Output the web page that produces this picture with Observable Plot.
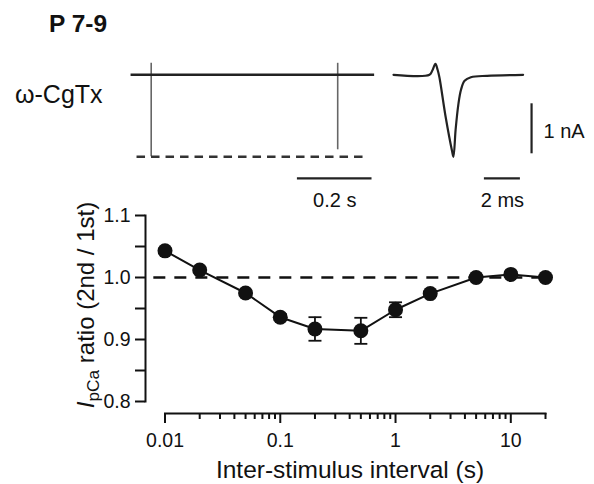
<!DOCTYPE html>
<html>
<head>
<meta charset="utf-8">
<script src="https://cdn.jsdelivr.net/npm/d3@7"></script>
<script src="https://cdn.jsdelivr.net/npm/@observablehq/plot@0.6"></script>
<style>
  html, body { margin: 0; padding: 0; background: #fff; }
  #fig { position: relative; width: 594px; height: 484px; overflow: hidden; background: #fff;
         font-family: "Liberation Sans", Arial, sans-serif; color: #111; }
  #fig svg { position: absolute; left: 0; }
  .lbl { position: absolute; white-space: nowrap; line-height: 1; color: #111; }
  .lbl sub { font-size: 0.72em; vertical-align: -0.3em; line-height: 0; }
</style>
</head>
<body>
<div id="fig"></div>
<script>
// ---------- data: paired-pulse ratio vs inter-stimulus interval ----------
const intervals = [0.01, 0.02, 0.05, 0.1, 0.2, 0.5, 1, 2, 5, 10, 20];          // s
const ratios    = [1.043, 1.012, 0.975, 0.936, 0.917, 0.914, 0.948, 0.974, 1.000, 1.005, 1.000];
const sems      = [0.004, 0.004, 0.004, 0.005, 0.019, 0.021, 0.012, 0.004, 0.003, 0.004, 0.003];
const referenceRatio = 1.0;
const referenceSpan = [0.008, 20];

const xTicks = [0.01, 0.1, 1, 10];
const xTickLabels = ["0.01", "0.1", "1", "10"];
const xMinorTicks = [0.02, 0.03, 0.04, 0.05, 0.06, 0.07, 0.08, 0.09,
                     0.2, 0.3, 0.4, 0.5, 0.6, 0.7, 0.8, 0.9,
                     2, 3, 4, 5, 6, 7, 8, 9, 20];
const yTicks = [0.8, 0.9, 1.0, 1.1];
const yTickLabels = ["0.8", "0.9", "1.0", "1.1"];
const yMinorTicks = [0.85, 0.95, 1.05];
const xDomain = [0.01, 20];
const yDomain = [0.8, 1.1];

// ---------- data: example traces ----------
// slow sweep (s): two stimuli 0.5 s apart
const sweepSpan = [-0.054, 0.599];
const stimTimes = [0, 0.5];
const peakCurrents = [-1.64, -1.50];        // nA
const artifactTop = 0.23;                   // nA
const firstPeakSpan = [-0.038, 0.579];      // dashed line at first peak
// fast sweep (ms): single current on expanded time base
const fastTime    = [0, 2.0, 2.15, 2.33, 2.45, 2.55, 2.9, 3.25, 3.33, 3.45, 3.6, 3.75, 3.95, 4.3, 5.2, 7.2];
const fastCurrent = [0, 0, 0.08, 0.22, 0.1, -0.05, -0.85, -1.52, -1.64, -1.1, -0.6, -0.3, -0.12, -0.05, -0.02, 0];
// scale bars
const slowTimeBar = [{t0: 0.392, dt: 0.2, level: -2.07, label: "0.2 s"}];
const fastTimeBar = [{t0: 5.05, dt: 2, level: -2.07, label: "2 ms"}];
const currentBar  = [{t: 7.67, i0: -0.58, di: 1, label: "1 nA"}];

// ---------- build ----------
const fig = document.getElementById("fig");
const FONT = '"Liberation Sans", Arial, sans-serif';
const baseStyle = {background: "transparent", fontFamily: FONT, color: "#111", overflow: "visible"};

const points = intervals.map((x, i) => ({x, y: ratios[i], lo: ratios[i] - sems[i], hi: ratios[i] + sems[i]}));
const capSymbol = {draw(ctx, size) { const r = Math.sqrt(size / Math.PI); ctx.moveTo(-r, 0); ctx.lineTo(r, 0); }};

// slow trace panel
const slow = Plot.plot({
  width: 594, height: 215, margin: 0,
  x: {domain: [0, 1], range: [150.7, 523.7], axis: null},
  y: {domain: [0, -1], range: [74.3, 124.3], axis: null},
  style: {...baseStyle, fontSize: "20px"},
  marks: [
    Plot.ruleX(stimTimes.map((t, i) => ({t, peak: peakCurrents[i]})),
      {x: "t", y1: artifactTop, y2: "peak", stroke: "#666", strokeWidth: 1.6}),
    Plot.ruleY([0], {x1: sweepSpan[0], x2: sweepSpan[1], stroke: "#222", strokeWidth: 2.6}),
    Plot.ruleY([peakCurrents[0]], {x1: firstPeakSpan[0], x2: firstPeakSpan[1], stroke: "#333", strokeWidth: 2.4, strokeDasharray: "8.5,6"}),
    Plot.ruleY(slowTimeBar, {x1: d => d.t0, x2: d => d.t0 + d.dt, y: "level", stroke: "#222", strokeWidth: 2.2}),
    Plot.text(slowTimeBar, {x: d => d.t0 + d.dt / 2, y: "level", text: "label", dy: 29, lineAnchor: "bottom", fill: "#111"})
  ]
});
slow.style.top = "0px";
fig.appendChild(slow);

// fast trace panel
const fast = Plot.plot({
  width: 594, height: 215, margin: 0,
  x: {domain: [0, 1], range: [393, 411], axis: null},
  y: {domain: [0, -1], range: [74.3, 124.3], axis: null},
  style: {...baseStyle, fontSize: "20px"},
  marks: [
    Plot.line(fastTime.map((t, i) => ({t, c: fastCurrent[i]})),
      {x: "t", y: "c", stroke: "#222", strokeWidth: 2.2, strokeLinejoin: "round", curve: "catmull-rom"}),
    Plot.ruleY(fastTimeBar, {x1: d => d.t0, x2: d => d.t0 + d.dt, y: "level", stroke: "#222", strokeWidth: 2.2}),
    Plot.text(fastTimeBar, {x: d => d.t0 + d.dt / 2, y: "level", text: "label", dy: 29, lineAnchor: "bottom", fill: "#111"}),
    Plot.ruleX(currentBar, {x: "t", y1: "i0", y2: d => d.i0 - d.di, stroke: "#222", strokeWidth: 2.2}),
    Plot.text(currentBar, {x: "t", y: d => d.i0 - d.di / 2, text: "label", dx: 12, dy: 3, textAnchor: "start", lineAnchor: "middle", fill: "#111"})
  ]
});
fast.style.top = "0px";
fig.appendChild(fast);

// main chart
const main = Plot.plot({
  width: 594, height: 289,
  marginLeft: 145, marginRight: 49, marginTop: 20, marginBottom: 71,
  x: {type: "log", domain: xDomain, insetLeft: 19.5},
  y: {domain: yDomain, insetBottom: 12},
  style: {...baseStyle, fontSize: "19.5px"},
  marks: [
    Plot.frame({anchor: "left", insetBottom: 12, strokeWidth: 2, stroke: "#111"}),
    Plot.frame({anchor: "bottom", insetLeft: 19.5, strokeWidth: 2, stroke: "#111"}),
    Plot.axisY({ticks: yTicks, tickSize: 10, tickPadding: 5, tickFormat: d => yTickLabels[yTicks.indexOf(d)], label: null, strokeWidth: 2, stroke: "#111", fill: "#111"}),
    Plot.axisY({ticks: yMinorTicks, tickSize: 10, tickFormat: () => "", label: null, strokeWidth: 2, stroke: "#111"}),
    Plot.axisX({ticks: xTicks, tickSize: 10, tickPadding: 10, tickFormat: d => xTickLabels[xTicks.indexOf(d)], label: null, strokeWidth: 2, stroke: "#111", fill: "#111"}),
    Plot.axisX({ticks: xMinorTicks, tickSize: 6, tickFormat: () => "", label: null, strokeWidth: 2, stroke: "#111"}),
    Plot.ruleY([referenceRatio], {x1: referenceSpan[0], x2: referenceSpan[1], stroke: "#111", strokeWidth: 2.4, strokeDasharray: "12,9"}),
    Plot.line(points, {x: "x", y: "y", stroke: "#111", strokeWidth: 2}),
    Plot.ruleX(points, {x: "x", y1: "lo", y2: "hi", stroke: "#111", strokeWidth: 1.8}),
    Plot.dot(points, {x: "x", y: "lo", symbol: capSymbol, r: 6.5, stroke: "#111", strokeWidth: 1.8}),
    Plot.dot(points, {x: "x", y: "hi", symbol: capSymbol, r: 6.5, stroke: "#111", strokeWidth: 1.8}),
    Plot.dot(points, {x: "x", y: "y", r: 7.5, fill: "#111", stroke: "none"})
  ]
});
main.style.top = "195px";
fig.appendChild(main);

// text labels
function label(html, css) {
  const d = document.createElement("div");
  d.className = "lbl";
  d.innerHTML = html;
  Object.assign(d.style, css);
  fig.appendChild(d);
  return d;
}
label("P 7-9", {left: "49px", top: "12px", fontSize: "24.5px", fontWeight: "bold"});
label("ω-CgTx", {left: "15px", top: "82px", fontSize: "25px"});
label("Inter-stimulus interval (s)", {left: "350px", top: "458px", fontSize: "24.5px", transform: "translateX(-50%)"});
label("<i>I</i><sub>pCa</sub> ratio (2nd / 1st)", {left: "86px", top: "305px", fontSize: "24px",
  transform: "translate(-50%, -50%) rotate(-90deg)"});
</script>
</body>
</html>
